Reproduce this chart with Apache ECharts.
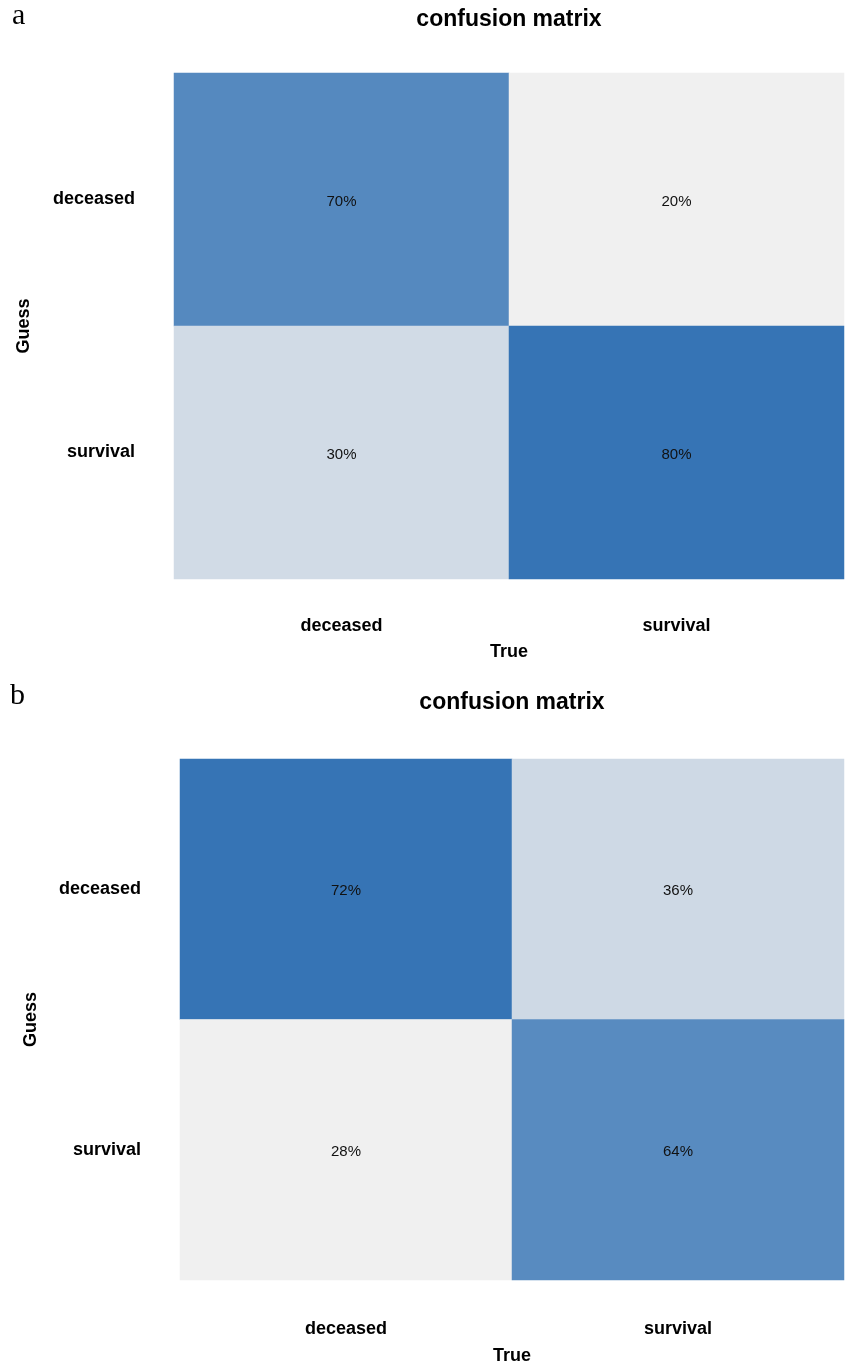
<!DOCTYPE html>
<html><head><meta charset="utf-8">
<script src="https://cdn.jsdelivr.net/npm/echarts@6/dist/echarts.min.js"></script>
<style>html,body{margin:0;padding:0;background:#fff}#c{width:851px;height:1368px}</style>
</head><body><div id="c"></div>
<script>
// categories (true class on x, guessed class on y)
const categories = ['deceased', 'survival'];
// rows = Guess (deceased, survival), cols = True (deceased, survival), percent
const valuesA = [[70, 20], [30, 80]];
const valuesB = [[72, 36], [28, 64]];
const panelLabels = ['a', 'b'];
const titleText = 'confusion matrix';
const xName = 'True';
const yName = 'Guess';

function toData(m) {
  const out = [];
  m.forEach((row, r) => row.forEach((v, c) => out.push([c, r, v])));
  return out;
}
const F = '"Liberation Sans", Arial, sans-serif';
const axisLab = { fontFamily: F, fontWeight: 'bold', fontSize: 18, color: '#000' };

function xAxis(gi, margin, gap) {
  return { type: 'category', gridIndex: gi, data: categories, position: 'bottom',
    axisLine: { show: false }, axisTick: { show: false }, splitLine: { show: false },
    axisLabel: Object.assign({ margin: margin }, axisLab),
    name: xName, nameLocation: 'middle', nameGap: gap, nameTextStyle: axisLab };
}
function yAxis(gi, gap) {
  return { type: 'category', gridIndex: gi, data: categories, inverse: true,
    axisLine: { show: false }, axisTick: { show: false }, splitLine: { show: false },
    axisLabel: Object.assign({ margin: 39, lineHeight: 22, verticalAlign: 'middle', padding: [4, 0, 0, 0] }, axisLab),
    name: yName, nameLocation: 'middle', nameGap: gap, nameRotate: 90, nameTextStyle: axisLab };
}
function series(i, vals) {
  return { type: 'heatmap', xAxisIndex: i, yAxisIndex: i, data: toData(vals),
    itemStyle: { borderWidth: 0 },
    label: { show: true, formatter: p => p.value[2] + '%', fontFamily: F, fontSize: 15, color: '#111', offset: [0, 2] },
    emphasis: { disabled: true } };
}
const flatA = valuesA.flat(), flatB = valuesB.flat();
const option = {
  animation: false,
  backgroundColor: '#fff',
  title: [
    { text: titleText, left: 504, top: 3, textAlign: 'center', textStyle: { fontFamily: F, fontWeight: 'bold', fontSize: 23, color: '#000' } },
    { text: titleText, left: 507, top: 686, textAlign: 'center', textStyle: { fontFamily: F, fontWeight: 'bold', fontSize: 23, color: '#000' } },
    { text: panelLabels[0], left: 7, top: -4, textStyle: { fontFamily: '"Liberation Serif", serif', fontWeight: 'normal', fontSize: 30, color: '#000' } },
    { text: panelLabels[1], left: 5, top: 676, textStyle: { fontFamily: '"Liberation Serif", serif', fontWeight: 'normal', fontSize: 30, color: '#000' } }
  ],
  grid: [
    { left: 174, right: 7, top: 73, height: 506 },
    { left: 180, right: 7, top: 759, height: 521 }
  ],
  xAxis: [xAxis(0, 38, 64), xAxis(1, 40, 67)],
  yAxis: [yAxis(0, 141), yAxis(1, 140)],
  visualMap: [
    { show: false, seriesIndex: 0, min: Math.min(...flatA), max: Math.max(...flatA), inRange: { color: ['#f0f0f0', '#3674b5'] } },
    { show: false, seriesIndex: 1, min: Math.min(...flatB), max: Math.max(...flatB), inRange: { color: ['#f0f0f0', '#3674b5'] } }
  ],
  series: [series(0, valuesA), series(1, valuesB)]
};
const chart = echarts.init(document.getElementById('c'));
chart.setOption(option);
</script></body></html>
